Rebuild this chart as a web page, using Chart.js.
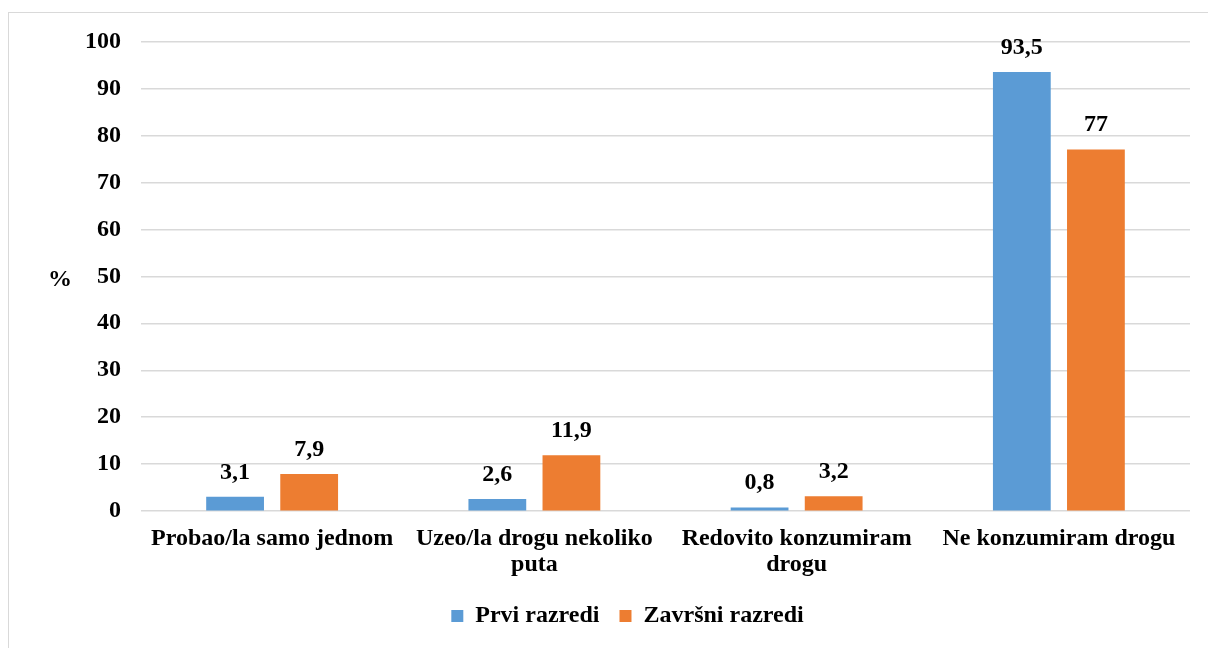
<!DOCTYPE html>
<html>
<head>
<meta charset="utf-8">
<script src="https://cdn.jsdelivr.net/npm/chart.js@4.4.0/dist/chart.umd.min.js"></script>
<style>
  body { margin: 0; background: #fff; }
  #box { position: absolute; left: 8px; top: 12px; width: 1210px; height: 645px; border: 1px solid #d9d9d9; }
  #wrap { position: absolute; left: 0; top: 0; width: 1199px; height: 635px; }
</style>
</head>
<body>
<div id="box"><div id="wrap"><canvas id="c"></canvas></div></div>
<script>
// data
const categories = [
  'Probao/la samo jednom',
  ['Uzeo/la drogu nekoliko', 'puta'],
  ['Redovito konzumiram', 'drogu'],
  'Ne konzumiram drogu'
];
const prviRazredi = [3.1, 2.6, 0.8, 93.5];
const zavrsniRazredi = [7.9, 11.9, 3.2, 77];
const seriesNames = ['Prvi razredi', 'Završni razredi'];
const yTicks = [0, 10, 20, 30, 40, 50, 60, 70, 80, 90, 100];

const fontFamily = '"Liberation Serif", "Times New Roman", serif';
const fontSize = 24;

// value labels above bars + "%" axis label
const barLabels = {
  id: 'barLabels',
  afterDatasetsDraw(chart) {
    const ctx = chart.ctx;
    ctx.save();
    ctx.font = 'bold ' + fontSize + 'px ' + fontFamily;
    ctx.fillStyle = '#000';
    ctx.textAlign = 'center';
    ctx.textBaseline = 'alphabetic';
    chart.data.datasets.forEach((ds, i) => {
      chart.getDatasetMeta(i).data.forEach((bar, j) => {
        ctx.fillText(String(ds.data[j]).replace('.', ','), bar.x, bar.y - 18);
      });
    });
    // y axis title, horizontal
    const area = chart.chartArea;
    ctx.textBaseline = 'middle';
    ctx.fillText('%', 51, (area.top + area.bottom) / 2 + 3);
    ctx.restore();
  }
};

new Chart(document.getElementById('c'), {
  type: 'bar',
  data: {
    labels: categories,
    datasets: [
      { label: seriesNames[0], data: prviRazredi, backgroundColor: '#5b9bd5' },
      { label: seriesNames[1], data: zavrsniRazredi, backgroundColor: '#ed7d31' }
    ]
  },
  options: {
    responsive: true,
    maintainAspectRatio: false,
    animation: false,
    categoryPercentage: 0.565,
    barPercentage: 0.78,
    layout: { padding: { left: 56, right: 18, top: 10, bottom: 10 } },
    plugins: {
      tooltip: { enabled: false },
      legend: {
        position: 'bottom',
        labels: {
          boxWidth: 12,
          boxHeight: 12,
          padding: 20,
          color: '#000',
          font: { family: fontFamily, size: fontSize, weight: 'bold' }
        }
      }
    },
    scales: {
      x: {
        grid: { display: false },
        border: { display: false },
        ticks: {
          color: '#000',
          maxRotation: 0,
          autoSkip: false,
          padding: 6,
          font: { family: fontFamily, size: fontSize, weight: 'bold', lineHeight: 1.1 }
        }
      },
      y: {
        min: 0,
        max: 100,
        afterBuildTicks(axis) { axis.ticks = yTicks.map(v => ({ value: v })); },
        grid: { color: '#d9d9d9', lineWidth: 1.5, drawTicks: false },
        border: { display: false },
        ticks: {
          color: '#000',
          padding: 20,
          font: { family: fontFamily, size: fontSize, weight: 'bold', lineHeight: 0.7 }
        }
      }
    }
  },
  plugins: [barLabels]
});
</script>
</body>
</html>
